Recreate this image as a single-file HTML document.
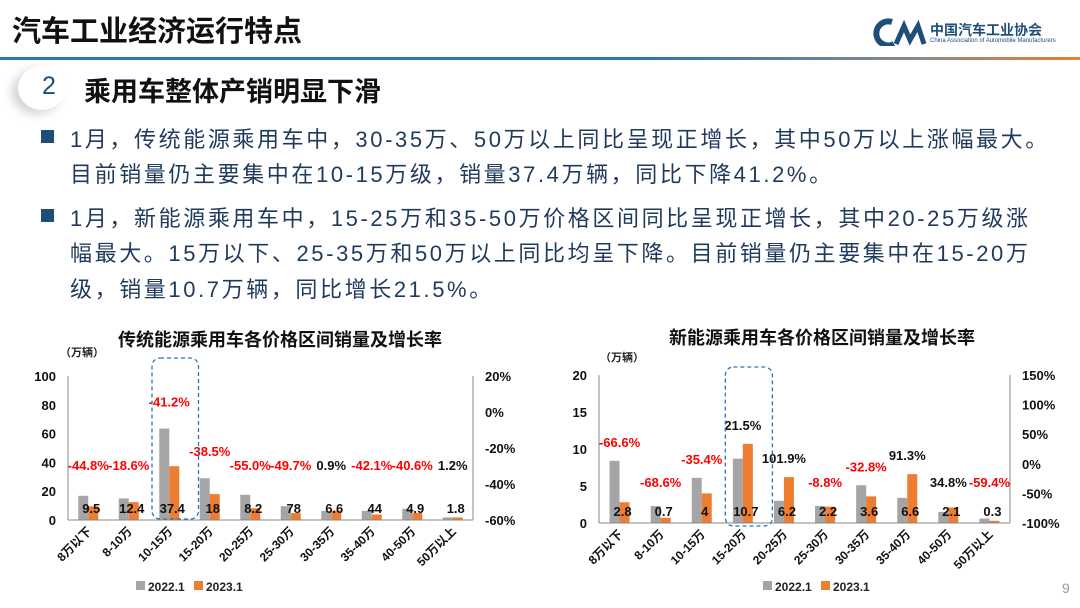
<!DOCTYPE html>
<html><head><meta charset="utf-8">
<style>
html,body{margin:0;padding:0;background:#fff;}
body{width:1080px;height:608px;position:relative;overflow:hidden;font-family:"Liberation Sans","Noto Sans CJK SC",sans-serif;}
.abs{position:absolute;white-space:nowrap;}
.bl{position:absolute;left:70px;font-size:22px;letter-spacing:2.6px;color:#1f3a5c;white-space:nowrap;}
.sq{position:absolute;left:41px;width:13px;height:13px;background:#1f4e79;}
</style></head><body>
<div class="abs" style="left:12px;top:8px;font-size:29px;font-weight:bold;color:#111;">汽车工业经济运行特点</div>
<div class="abs" style="left:872px;top:18px;">
 <svg width="60" height="28"><path d="M20 4 A12 12 0 1 0 22 26" stroke="#1f4e79" stroke-width="6" fill="none"/><path d="M24 26 L32 8 L38 22 L46 8 L52 26" stroke="#1f4e79" stroke-width="5" fill="none"/></svg>
</div>
<div class="abs" style="left:930px;top:20px;font-size:14px;font-weight:bold;color:#1f4e79;">中国汽车工业协会</div>
<div class="abs" style="left:930px;top:38px;font-size:6px;color:#1f4e79;">China Association of Automobile Manufacturers</div>
<div style="position:absolute;left:0;top:57px;width:1080px;height:3px;background:linear-gradient(90deg,#2e75b6 0%,#2e75b6 60%,#8a8a8a 85%,#ed7d31 100%);"></div>
<div style="position:absolute;left:18px;top:66px;width:48px;height:44px;border-radius:50%;background:#fff;box-shadow:-6px 4px 10px rgba(0,0,0,0.18);"></div>
<div class="abs" style="left:42px;top:72px;font-size:25px;color:#1f4e79;">2</div>
<div class="abs" style="left:84px;top:70px;font-size:27px;font-weight:bold;color:#111;">乘用车整体产销明显下滑</div>

<div class="sq" style="top:130px"></div>
<div class="bl" style="top:122px">1月，传统能源乘用车中，30-35万、50万以上同比呈现正增长，其中50万以上涨幅最大。</div>
<div class="bl" style="top:157px">目前销量仍主要集中在10-15万级，销量37.4万辆，同比下降41.2%。</div>
<div class="sq" style="top:209px"></div>
<div class="bl" style="top:201px">1月，新能源乘用车中，15-25万和35-50万价格区间同比呈现正增长，其中20-25万级涨</div>
<div class="bl" style="top:236px">幅最大。15万以下、25-35万和50万以上同比均呈下降。目前销量仍主要集中在15-20万</div>
<div class="bl" style="top:272px">级，销量10.7万辆，同比增长21.5%。</div>

<svg id="chart" width="1080" height="608" style="position:absolute;left:0;top:0;"></svg>
<div class="abs" style="left:1062px;top:580px;font-size:14px;color:#999;">9</div>

<script>
const categories = ["8万以下","8-10万","10-15万","15-20万","20-25万","25-30万","30-35万","35-40万","40-50万","50万以上"];
const iceSales2022 = [16.8,15,63.5,29,17.5,9.6,6.3,6.3,7.8,1.8];
const iceSales2023 = [9.5,12.4,37.4,18,8.2,4.8,6.6,3.8,4.9,1.8];
const iceValueLabels = ["9.5","12.4","37.4","18","8.2","78","6.6","44","4.9","1.8"];
const iceGrowth = [-44.8,-18.6,-41.2,-38.5,-55.0,-49.7,0.9,-42.1,-40.6,1.2];
const iceLeftTicks = [0,20,40,60,80,100];
const iceRightTicks = ["-60%","-40%","-20%","0%","20%"];
const nevSales2022 = [8.4,2.3,6.1,8.7,3.0,2.3,5.1,3.4,1.5,0.6];
const nevSales2023 = [2.8,0.7,4,10.7,6.2,2.2,3.6,6.6,2.1,0.3];
const nevValueLabels = ["2.8","0.7","4","10.7","6.2","2.2","3.6","6.6","2.1","0.3"];
const nevGrowth = [-66.6,-68.6,-35.4,21.5,101.9,-8.8,-32.8,91.3,34.8,-59.4];
const nevLeftTicks = [0,5,10,15,20];
const nevRightTicks = ["-100%","-50%","0%","50%","100%","150%"];

const svg = document.getElementById('chart');
const NS = 'http://www.w3.org/2000/svg';
function mk(tag, attrs, text){
  const e = document.createElementNS(NS, tag);
  for (const k in attrs) e.setAttribute(k, attrs[k]);
  if (text !== undefined) e.textContent = text;
  svg.appendChild(e);
  return e;
}
function fmt(v){ return v.toFixed(1) + '%'; }

function drawChart(cfg){
  const {x0,x1,y0,y1,maxV,g22,g23,labels,growth,lTicks,rTicks,title,titleX,titleY,unitX,unitY,capY,offY,hl,legX,key} = cfg;
  const n = categories.length, bw = (x1-x0)/n;
  const yScale = v => y0 - (v/maxV)*(y0-y1);
  const xC = i => x0 + bw*(i+0.5);
  let t = mk('text',{x:titleX,y:titleY,'text-anchor':'middle','font-size':18,'font-weight':'bold',fill:'#111'},title);
   
  t = mk('text',{x:unitX,y:unitY,'font-size':11,'font-weight':'bold',fill:'#222'},'（万辆）');
   
  lTicks.forEach(v=>{
    const e = mk('text',{x:x0-12,y:yScale(v)+5,'text-anchor':'end','font-size':13,'font-weight':'bold',fill:'#111'},String(v));
     
  });
  rTicks.forEach((s,i)=>{
    const y = y0 - i*(y0-y1)/(rTicks.length-1);
    const e = mk('text',{x:x1+12,y:y+5,'font-size':13,'font-weight':'bold',fill:'#111'},s);
     
  });
  let a = mk('line',{x1:x0,y1:y1,x2:x0,y2:y0,stroke:'#888','stroke-width':1});
   
  a = mk('line',{x1:x1,y1:y1,x2:x1,y2:y0,stroke:'#888','stroke-width':1});
   
  categories.forEach((c,i)=>{
    const cx = xC(i);
    const ya = yScale(g22[i]), yb = yScale(g23[i]);
    const r1 = mk('rect',{x:cx-10,y:ya,width:10,height:y0-ya,fill:'#a5a5a5'});
     
    const r2 = mk('rect',{x:cx,y:yb,width:10,height:y0-yb,fill:'#ed7d31'});
     
    const vl = mk('text',{x:cx+3,y:y0-7,'text-anchor':'middle','font-size':13,'font-weight':'bold',fill:'#111'},labels[i]);
     
    const top = Math.min(ya,yb);
    const gy = Math.min(capY, top-offY);
    const gl = mk('text',{x:cx,y:gy,'text-anchor':'middle','font-size':13,'font-weight':'bold',fill:growth[i]<0?'#ff0000':'#111'},fmt(growth[i]));
     
    const xl = mk('text',{x:0,y:0,'text-anchor':'end','font-size':12,'font-weight':'bold',fill:'#111',transform:`translate(${cx+4},${y0+12}) rotate(-45)`},c);
     
  });
  a = mk('line',{x1:x0,y1:y0,x2:x1,y2:y0,stroke:'#888','stroke-width':1});
   
  const hx = xC(hl);
  const box = mk('rect',{x:hx-bw/2+3,y:hl===2?358:367,width:bw+6,height:hl===2?161:159,rx:8,fill:'none',stroke:'#2e75b6','stroke-width':1.3,'stroke-dasharray':'4,3'});
   
  let r = mk('rect',{x:legX,y:581,width:9,height:9,fill:'#a5a5a5'});
   
  t = mk('text',{x:legX+12,y:591,'font-size':12,'font-weight':'bold',fill:'#222'},'2022.1');
   
  r = mk('rect',{x:legX+58,y:581,width:9,height:9,fill:'#ed7d31'});
   
  t = mk('text',{x:legX+70,y:591,'font-size':12,'font-weight':'bold',fill:'#222'},'2023.1');
   
}
drawChart({key:'ice',x0:68,x1:473,y0:520,y1:376,maxV:100,g22:iceSales2022,g23:iceSales2023,labels:iceValueLabels,growth:iceGrowth,lTicks:iceLeftTicks,rTicks:iceRightTicks,title:'传统能源乘用车各价格区间销量及增长率',titleX:280,titleY:346,unitX:60,unitY:356,capY:470,offY:22,hl:2,legX:136});
drawChart({key:'nev',x0:599,x1:1010,y0:523,y1:375,maxV:20,g22:nevSales2022,g23:nevSales2023,labels:nevValueLabels,growth:nevGrowth,lTicks:nevLeftTicks,rTicks:nevRightTicks,title:'新能源乘用车各价格区间销量及增长率',titleX:822,titleY:344,unitX:600,unitY:361,capY:487,offY:14,hl:3,legX:763});
</script>
</body></html>
